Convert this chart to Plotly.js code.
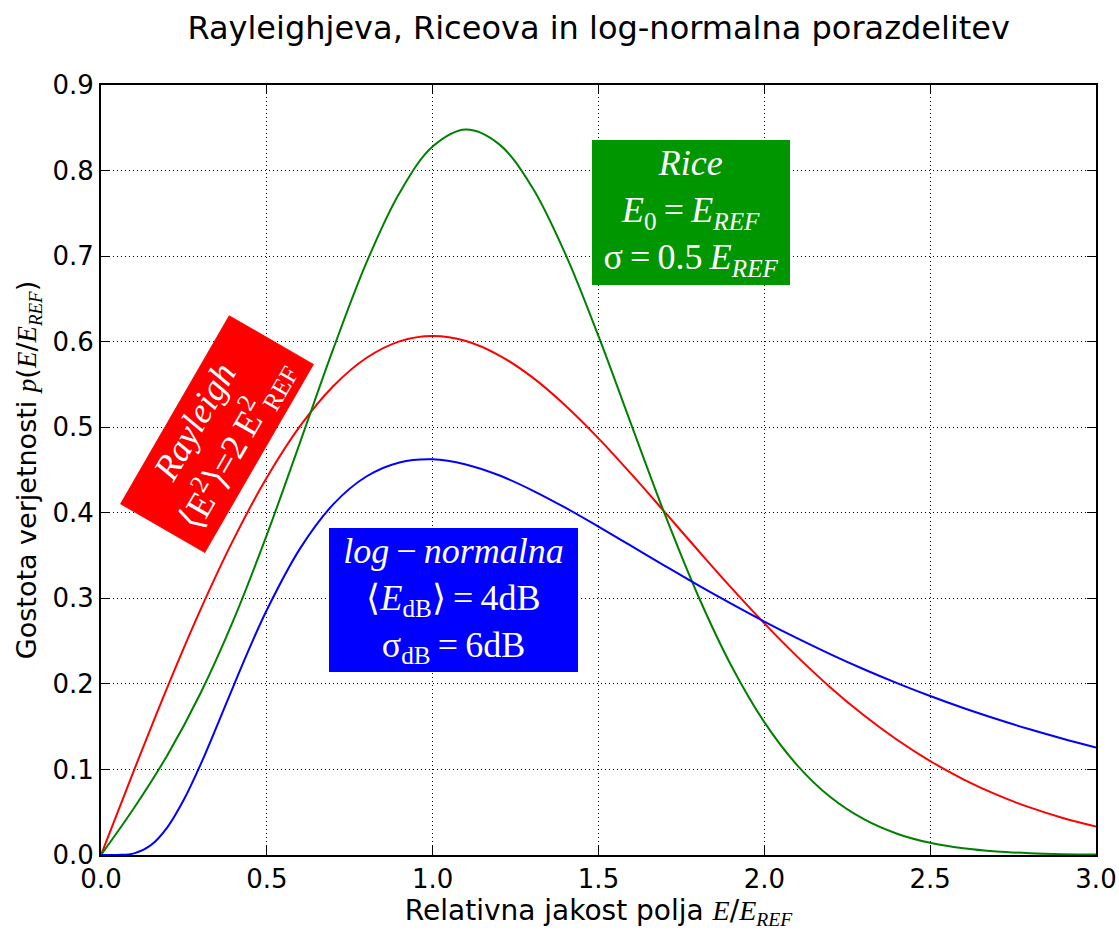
<!DOCTYPE html>
<html>
<head>
<meta charset="utf-8">
<script src="https://cdn.plot.ly/plotly-3.0.1.min.js"></script>
<style>html,body{margin:0;padding:0;background:#fff;}#chart{width:1119px;height:930px;}</style>
</head>
<body>
<div id="chart"></div>
<script>
// x positions (relative field strength E/E_REF)
const xVals = [0.0,0.1,0.2,0.3,0.4,0.5,0.6,0.7,0.8,0.9,1.0,1.1,1.2,1.3,1.4,1.5,1.6,1.7,1.8,1.9,2.0,2.1,2.2,2.3,2.4,2.5,2.6,2.7,2.8,2.9,3.0];
// Rayleigh curve (red)
const rayleigh = [0.0,0.0995,0.1960,0.2868,0.3692,0.4412,0.5012,0.5479,0.5809,0.6003,0.6065,0.6007,0.5841,0.5585,0.5254,0.4870,0.4448,0.4007,0.3562,0.3125,0.2707,0.2316,0.1956,0.1633,0.1347,0.1098,0.0885,0.0705,0.0556,0.0433,0.0333];
// Rice curve (green)
const rice = [0.0,0.0552,0.1166,0.1891,0.2752,0.3742,0.4821,0.5912,0.6921,0.7738,0.8280,0.8479,0.8309,0.7805,0.7026,0.6064,0.5019,0.3983,0.3033,0.2215,0.1553,0.1045,0.0674,0.0418,0.0249,0.0142,0.0078,0.0041,0.0021,0.0010,0.0005];
// log-normal curve (blue), denser near zero
const xLog = [0.0,0.05,0.1,0.15,0.2,0.25,0.3,0.35,0.4,0.45,0.5,0.6,0.7,0.8,0.9,1.0,1.1,1.2,1.3,1.4,1.5,1.6,1.7,1.8,1.9,2.0,2.1,2.2,2.3,2.4,2.5,2.6,2.7,2.8,2.9,3.0];
const lognormal = [0.0,0.00004,0.0019,0.0114,0.0324,0.0648,0.1056,0.1512,0.1981,0.2438,0.2864,0.3581,0.4098,0.4424,0.4588,0.4625,0.4565,0.4438,0.4263,0.4059,0.3838,0.3609,0.3380,0.3154,0.2937,0.2728,0.2531,0.2345,0.2171,0.2009,0.1858,0.1718,0.1589,0.1469,0.1359,0.1257];

const xTicks = [0.0,0.5,1.0,1.5,2.0,2.5,3.0];
const xTickText = ["0.0","0.5","1.0","1.5","2.0","2.5","3.0"];
const yTicks = [0.0,0.1,0.2,0.3,0.4,0.5,0.6,0.7,0.8,0.9];
const yTickText = ["0.0","0.1","0.2","0.3","0.4","0.5","0.6","0.7","0.8","0.9"];

const titleText = "Rayleighjeva, Riceova in log-normalna porazdelitev";
const sp = "\u2009";
const labelRice = "<i>Rice</i><br><i>E</i><sub>0</sub>" + sp + "=" + sp + "<i>E</i><sub><i>REF</i></sub><br>σ" + sp + "=" + sp + "0.5" + sp + "<i>E</i><sub><i>REF</i></sub>";
const labelLog = "<i>log</i>" + sp + "−" + sp + "<i>normalna</i><br>⟨<i>E</i><sub>dB</sub>⟩" + sp + "=" + sp + "4dB<br>σ<sub>dB</sub>" + sp + "=" + sp + "6dB";
const labelRay = "<i>Rayleigh</i><br>⟨E<sup>2</sup>⟩=2" + sp + "E<sup>2</sup><sub>REF</sub>";

const mathSpan = s => "<span style=\"font-family:'Liberation Serif';font-style:italic\">" + s + "</span>";

const traces = [
  {x: xVals, y: rayleigh, mode: 'lines', line: {color: '#ff0000', width: 2, shape: 'spline', smoothing: 1}, hoverinfo: 'skip'},
  {x: xVals, y: rice, mode: 'lines', line: {color: '#008000', width: 2, shape: 'spline', smoothing: 1}, hoverinfo: 'skip'},
  {x: xLog, y: lognormal, mode: 'lines', line: {color: '#0000ff', width: 2, shape: 'spline', smoothing: 1}, hoverinfo: 'skip'}
];

const axisCommon = {
  showline: true, linecolor: '#000', linewidth: 2, mirror: 'allticks',
  ticks: 'inside', ticklen: 9, tickwidth: 1, tickcolor: '#000',
  showgrid: true, gridcolor: '#000', gridwidth: 1, griddash: '1px,3px',
  zeroline: false, tickfont: {family: 'DejaVu Sans', size: 26, color: '#000'}
};

const layout = {
  width: 1119, height: 930,
  margin: {l: 101, r: 23, t: 85, b: 75},
  paper_bgcolor: '#fff', plot_bgcolor: '#fff',
  showlegend: false,
  title: {text: titleText, font: {family: 'DejaVu Sans', size: 32, color: '#000'}, x: 0.535, xanchor: 'center', y: 0.97, yanchor: 'middle'},
  xaxis: Object.assign({}, axisCommon, {range: [0, 3], tickvals: xTicks, ticktext: xTickText,
    title: {text: "Relativna jakost polja " + mathSpan("E") + "/" + mathSpan("E") + "<sub>" + mathSpan("REF") + "</sub>", font: {family: 'DejaVu Sans', size: 28, color: '#000'}, standoff: 2}}),
  yaxis: Object.assign({}, axisCommon, {range: [0, 0.9], tickvals: yTicks, ticktext: yTickText,
    title: {text: "Gostota verjetnosti " + mathSpan("p") + "(" + mathSpan("E") + "/" + mathSpan("E") + "<sub>" + mathSpan("REF") + "</sub>)", font: {family: 'DejaVu Sans', size: 27, color: '#000'}, standoff: 8}}),
  annotations: [
    {x: 1.779, y: 0.751, xref: 'x', yref: 'y', text: labelRice, showarrow: false, xanchor: 'center', yanchor: 'middle',
     width: 196, height: 143, borderpad: 0, borderwidth: 1, bordercolor: '#009600',
     font: {family: 'Liberation Serif', size: 36, color: '#fff'}, bgcolor: '#009600', align: 'center', valign: 'middle'},
    {x: 1.063, y: 0.298, xref: 'x', yref: 'y', text: labelLog, showarrow: false, xanchor: 'center', yanchor: 'middle',
     width: 247, height: 142, borderpad: 0, borderwidth: 1, bordercolor: '#0000ff',
     font: {family: 'Liberation Serif', size: 36, color: '#fff'}, bgcolor: '#0000ff', align: 'center', valign: 'middle'},
    {x: 0.35, y: 0.492, xref: 'x', yref: 'y', text: labelRay, showarrow: false, xanchor: 'center', yanchor: 'middle', textangle: -60,
     width: 216, height: 96, borderpad: 0, borderwidth: 1, bordercolor: '#ff0000',
     font: {family: 'Liberation Serif', size: 36, color: '#fff'}, bgcolor: '#ff0000', align: 'center', valign: 'middle'}
  ]
};

Plotly.newPlot('chart', traces, layout, {displayModeBar: false, staticPlot: true});
</script>
</body>
</html>
